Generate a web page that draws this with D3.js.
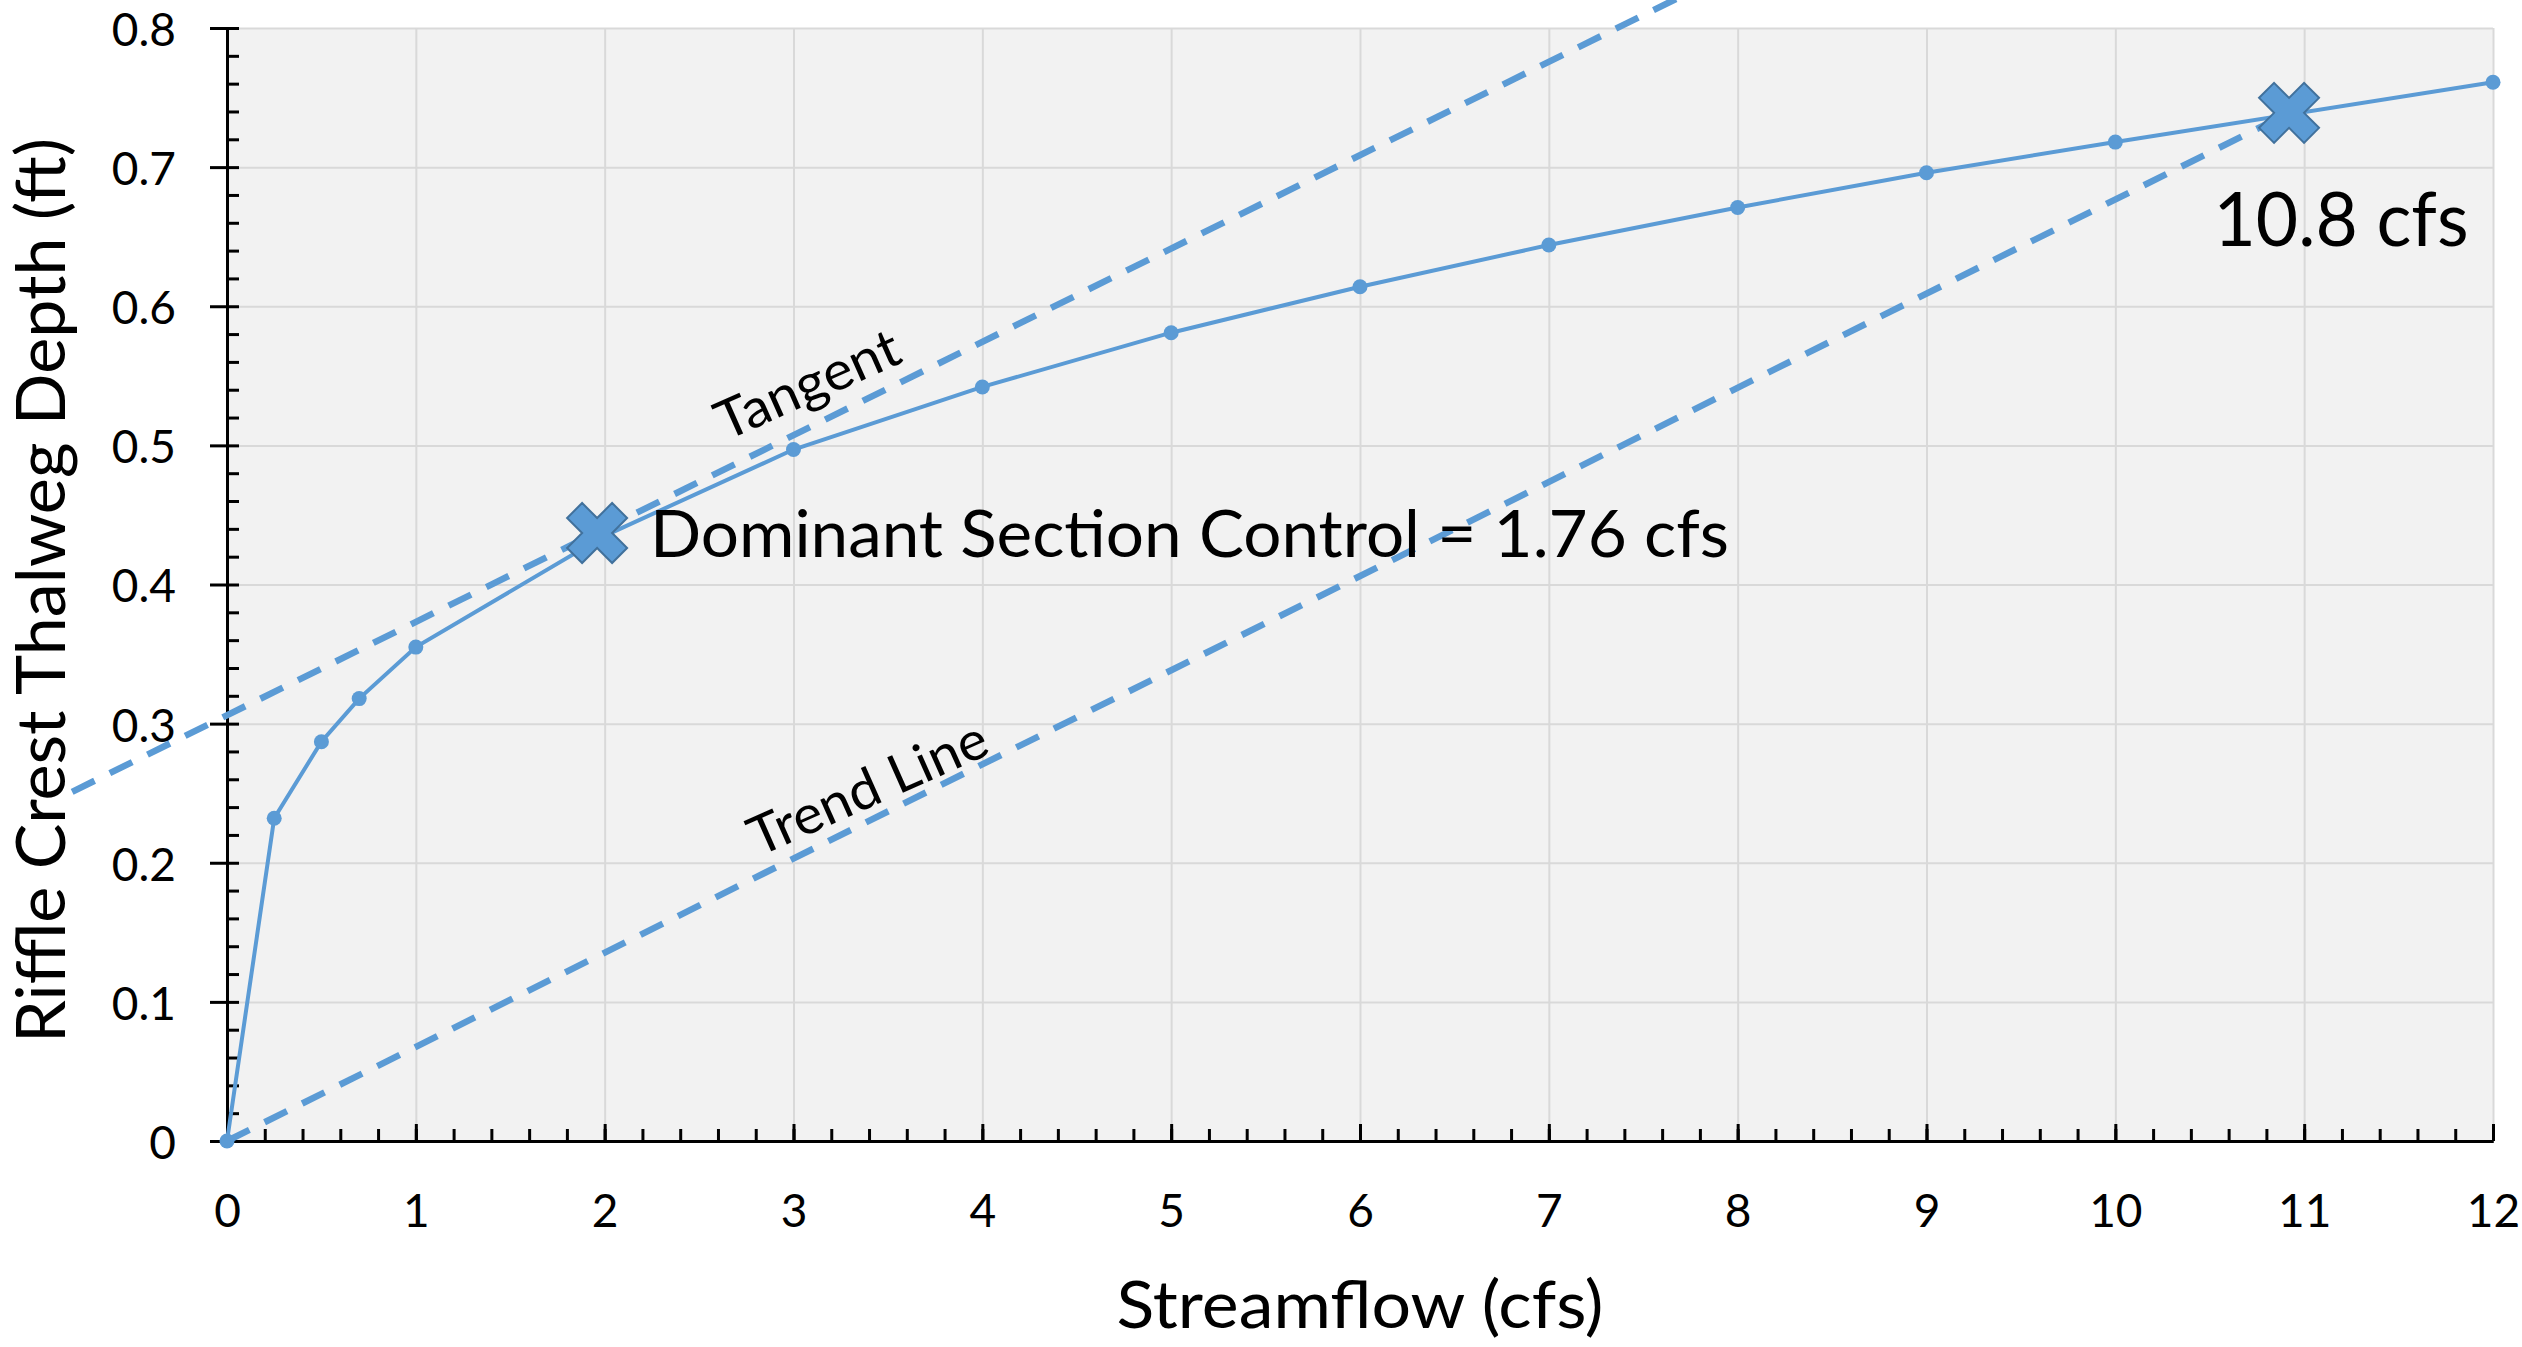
<html>

<head>
  <script src="https://d3js.org/d3.v7.min.js"></script>
  <style>
    body { margin: 0; background: white; }
    text { font-family: "Lato", "Noto Sans", sans-serif; fill: black; }
    .axis .domain { stroke: black; stroke-width: 3; }
    .axis line { stroke: black; stroke-width: 3; }
    .gridlines .domain { display: none; }
    .gridlines line { stroke: #d9d9d9; stroke-width: 2; }
  </style>
</head>

<body>
  <svg id="chart" width="2522" height="1347"></svg>

  <script>
    // rating curve: streamflow (cfs) vs riffle crest thalweg depth (ft)
    const flows = [0, 0.25, 0.5, 0.7, 1, 2, 3, 4, 5, 6, 7, 8, 9, 10, 12];
    const depths = [0, 0.232, 0.287, 0.318, 0.355, 0.435, 0.497, 0.542, 0.581, 0.614, 0.644, 0.671, 0.696, 0.718, 0.761];

    // X markers: dominant section control and trend line intersection
    const markerFlows = [1.96, 10.92];
    const markerDepths = [0.437, 0.739];

    // dashed lines (end points)
    const tangentFlows = [-0.82, 7.75];
    const tangentDepths = [0.251, 0.826];
    const trendFlows = [0, 10.92];
    const trendDepths = [0, 0.739];

    const xTicks = [0, 1, 2, 3, 4, 5, 6, 7, 8, 9, 10, 11, 12];
    const yTicks = [0, 0.1, 0.2, 0.3, 0.4, 0.5, 0.6, 0.7, 0.8];
    const yTickLabels = ["0", "0.1", "0.2", "0.3", "0.4", "0.5", "0.6", "0.7", "0.8"];

    const svg = d3.select('svg#chart');
    const width = +svg.attr('width');
    const height = +svg.attr('height');
    const margins = { top: 28, right: 29, bottom: 206, left: 227 };
    const chartWidth = width - margins.left - margins.right;
    const chartHeight = height - margins.top - margins.bottom;
    const blue = "#5b9bd5";

    const xScale = d3.scaleLinear().domain([0, 12]).range([0, chartWidth]);
    const yScale = d3.scaleLinear().domain([0, 0.8]).range([chartHeight, 0]);

    const chart = svg.append("g").attr("transform", `translate(${margins.left},${margins.top})`);

    // plot background
    chart.append("rect")
      .attr("width", chartWidth)
      .attr("height", chartHeight)
      .attr("fill", "#f2f2f2");

    // gridlines
    chart.append("g")
      .attr("class", "gridlines")
      .call(d3.axisLeft(yScale).tickValues(yTicks.slice(1)).tickSize(-chartWidth).tickFormat(""));
    chart.append("g")
      .attr("class", "gridlines")
      .attr("transform", `translate(0,${chartHeight})`)
      .call(d3.axisBottom(xScale).tickValues(xTicks.slice(1)).tickSize(-chartHeight).tickFormat(""));

    // minor ticks
    const yMinor = d3.range(0, 41).map(i => i * 0.02);
    const xMinor = d3.range(0, 61).map(i => i * 0.2);

    // y axis: major ticks cross the line, minor ticks inside
    chart.append("g")
      .attr("class", "axis")
      .call(d3.axisRight(yScale).tickValues(yMinor).tickSize(12).tickSizeOuter(0).tickFormat(""));
    const yAxis = chart.append("g")
      .attr("class", "axis")
      .call(d3.axisLeft(yScale).tickValues(yTicks).tickSize(17).tickSizeOuter(0)
        .tickPadding(34).tickFormat((d, i) => yTickLabels[i]));
    yAxis.selectAll("text").style("font-size", "46px").attr("dy", "0.38em");

    // x axis: ticks point up into the plot
    chart.append("g")
      .attr("class", "axis")
      .attr("transform", `translate(0,${chartHeight})`)
      .call(d3.axisTop(xScale).tickValues(xMinor).tickSize(12).tickSizeOuter(0).tickFormat(""));
    chart.append("g")
      .attr("class", "axis")
      .attr("transform", `translate(0,${chartHeight})`)
      .call(d3.axisTop(xScale).tickValues(xTicks).tickSize(17).tickSizeOuter(0).tickFormat(""));
    const xAxis = chart.append("g")
      .attr("class", "axis")
      .attr("transform", `translate(0,${chartHeight})`)
      .call(d3.axisBottom(xScale).tickValues(xTicks).tickSize(0).tickSizeOuter(0).tickPadding(53));
    xAxis.select(".domain").remove();
    xAxis.selectAll("text").style("font-size", "46px");

    // axis titles
    svg.append("text")
      .attr("text-anchor", "middle")
      .attr("x", margins.left + chartWidth / 2)
      .attr("y", 1328)
      .attr("textLength", 487)
      .attr("lengthAdjust", "spacingAndGlyphs")
      .style("font-size", "65px")
      .text("Streamflow (cfs)");

    svg.append("text")
      .attr("text-anchor", "middle")
      .attr("transform", `translate(65,${margins.top + chartHeight / 2 + 6}) rotate(-90)`)
      .attr("textLength", 905)
      .attr("lengthAdjust", "spacingAndGlyphs")
      .style("font-size", "67px")
      .text("Riffle Crest Thalweg Depth (ft)");

    // dashed tangent and trend lines
    const line = d3.line().x(d => xScale(d[0])).y(d => yScale(d[1]));
    const dashed = [
      d3.zip(tangentFlows, tangentDepths),
      d3.zip(trendFlows, trendDepths)
    ];
    chart.selectAll("path.dashed")
      .data(dashed)
      .join("path")
      .attr("class", "dashed")
      .attr("d", line)
      .attr("fill", "none")
      .attr("stroke", blue)
      .attr("stroke-width", 6.5)
      .attr("stroke-dasharray", "25,17");

    // rating curve
    const curve = d3.zip(flows, depths);
    chart.append("path")
      .datum(curve)
      .attr("d", line)
      .attr("fill", "none")
      .attr("stroke", blue)
      .attr("stroke-width", 4);

    chart.selectAll("circle")
      .data(curve)
      .join("circle")
      .attr("cx", d => xScale(d[0]))
      .attr("cy", d => yScale(d[1]))
      .attr("r", 7.5)
      .attr("fill", blue);

    // X markers
    chart.selectAll("path.marker")
      .data(d3.zip(markerFlows, markerDepths))
      .join("path")
      .attr("class", "marker")
      .attr("d", d3.symbol(d3.symbolCross).size(2250))
      .attr("transform", d => `translate(${xScale(d[0])},${yScale(d[1])}) rotate(45)`)
      .attr("fill", blue)
      .attr("stroke", "#41719c")
      .attr("stroke-width", 2);

    // annotations
    chart.append("text")
      .attr("x", xScale(2.24))
      .attr("y", yScale(0.42))
      .attr("textLength", 1079)
      .attr("lengthAdjust", "spacingAndGlyphs")
      .style("font-size", "65px")
      .text("Dominant Section Control = 1.76 cfs");

    chart.append("text")
      .attr("x", xScale(10.52))
      .attr("y", yScale(0.643))
      .attr("textLength", 255)
      .attr("lengthAdjust", "spacingAndGlyphs")
      .style("font-size", "75px")
      .text("10.8 cfs");

    chart.append("text")
      .attr("text-anchor", "middle")
      .attr("dominant-baseline", "central")
      .attr("transform", `translate(${xScale(3.07)},${yScale(0.545)}) rotate(-24)`)
      .attr("textLength", 196)
      .attr("lengthAdjust", "spacingAndGlyphs")
      .style("font-size", "54px")
      .text("Tangent");

    chart.append("text")
      .attr("text-anchor", "middle")
      .attr("dominant-baseline", "central")
      .attr("transform", `translate(${xScale(3.39)},${yScale(0.255)}) rotate(-24)`)
      .attr("textLength", 256)
      .attr("lengthAdjust", "spacingAndGlyphs")
      .style("font-size", "54px")
      .text("Trend Line");
  </script>
</body>

</html>
